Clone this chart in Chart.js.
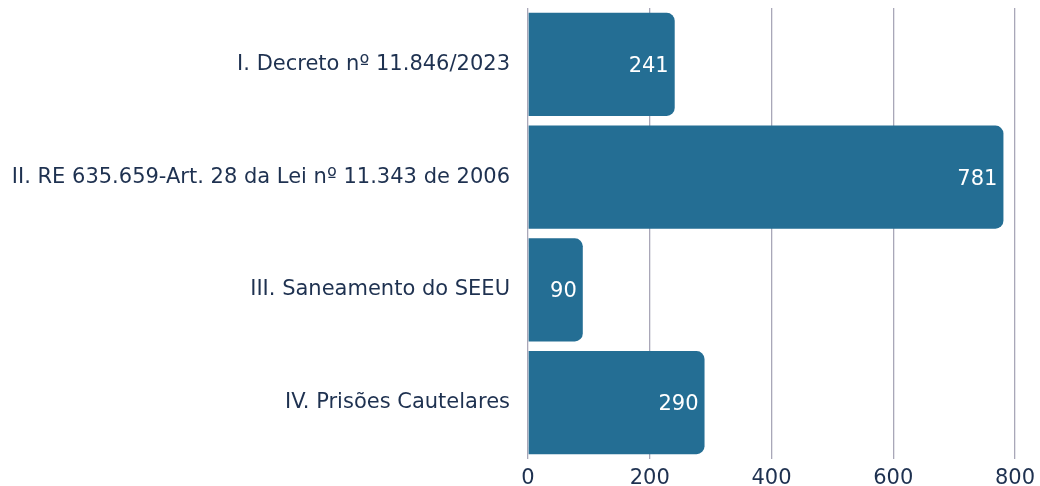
<!DOCTYPE html>
<html>
<head>
<meta charset="utf-8">
<script src="https://cdn.jsdelivr.net/npm/chart.js@4/dist/chart.umd.min.js"></script>
<style>
    html, body { margin: 0; padding: 0; background: #ffffff; }
    #wrap { width: 1040px; height: 486px; position: relative; }
</style>
</head>
<body>
<div id="wrap"><canvas id="bar-chart"></canvas></div>
<script>
var categories = [
    "I. Decreto nº 11.846/2023",
    "II. RE 635.659-Art. 28 da Lei nº 11.343 de 2006",
    "III. Saneamento do SEEU",
    "IV. Prisões Cautelares"
];
var values = [241, 781, 90, 290];
var xTicks = [0, 200, 400, 600, 800];

var fontFamily = "'DejaVu Sans', sans-serif";
var textColor = "#1e3150";

// white value labels at the end of each bar
var barValues = {
    id: "barValues",
    afterDatasetsDraw: function (chart) {
        var ctx = chart.ctx;
        var meta = chart.getDatasetMeta(0);
        ctx.save();
        ctx.font = "21px " + fontFamily;
        ctx.fillStyle = "#ffffff";
        ctx.textAlign = "right";
        ctx.textBaseline = "middle";
        meta.data.forEach(function (bar, i) {
            ctx.fillText(String(values[i]), bar.x - 6, bar.y + 2);
        });
        ctx.restore();
    }
};

var ctx = document.getElementById("bar-chart");
var barChart = new Chart(ctx, {
    type: 'bar',
    data: {
        labels: categories,
        datasets: [{
            data: values,
            backgroundColor: '#246e94',
            borderRadius: 8,
            borderSkipped: 'start',
            barPercentage: 0.914,
            categoryPercentage: 1
        }]
    },
    options: {
        indexAxis: 'y',
        responsive: true,
        maintainAspectRatio: false,
        animation: false,
        layout: { padding: { top: 8, right: 25, bottom: 0, left: 0 } },
        plugins: {
            legend: { display: false },
            tooltip: { enabled: false }
        },
        scales: {
            x: {
                min: 0,
                max: 800,
                afterBuildTicks: function (scale) {
                    scale.ticks = xTicks.map(function (v) { return { value: v }; });
                },
                afterFit: function (scale) {
                    scale.height = 27;
                    scale.paddingLeft = 0;
                    scale.paddingRight = 0;
                },
                border: { display: false },
                grid: { color: '#a9a7b8', lineWidth: 1.3, drawTicks: false },
                ticks: { color: textColor, padding: 7, font: { family: fontFamily, size: 21 } }
            },
            y: {
                afterFit: function (scale) {
                    scale.width = 528;
                    scale.paddingTop = 0;
                    scale.paddingBottom = 0;
                },
                border: { display: false },
                grid: { display: false, drawTicks: false },
                ticks: { color: textColor, padding: 18, font: { family: fontFamily, size: 21 } }
            }
        }
    },
    plugins: [barValues]
});
</script>
</body>
</html>
